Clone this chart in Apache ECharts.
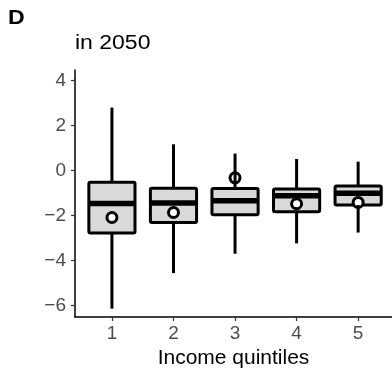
<!DOCTYPE html>
<html>
<head>
<meta charset="utf-8">
<script src="https://cdn.jsdelivr.net/npm/echarts@6/dist/echarts.min.js"></script>
<style>
  html, body { margin: 0; padding: 0; background: #fff; }
  #chart { width: 392px; height: 374px; }
</style>
</head>
<body>
<div id="chart"></div>
<script>
// Income quintile summaries, year 2050
const quintiles = [1, 2, 3, 4, 5];
const whiskerLow = [-6.13, -4.55, -3.69, -3.23, -2.75];
const q1 = [-2.77, -2.30, -1.96, -1.83, -1.53];
const medians = [-1.46, -1.44, -1.34, -1.12, -1.00];
const q3 = [-0.51, -0.78, -0.79, -0.81, -0.68];
const whiskerHigh = [2.80, 1.17, 0.76, 0.52, 0.40];
const means = [-2.08, -1.86, -0.32, -1.47, -1.41];
const yTicks = [-6, -4, -2, 0, 2, 4];

const rows = quintiles.map((q, i) => [q, whiskerLow[i], q1[i], medians[i], q3[i], whiskerHigh[i], means[i]]);

const chart = echarts.init(document.getElementById('chart'), null, { renderer: 'canvas' });

// One box per quintile: box, median bar, mean ring, whiskers
function renderBox(params, api) {
  const x = api.value(0);
  const halfW = api.size([0.75, 0])[0] / 2;
  const pLow = api.coord([x, api.value(1)]);
  const pQ1 = api.coord([x, api.value(2)]);
  const pMed = api.coord([x, api.value(3)]);
  const pQ3 = api.coord([x, api.value(4)]);
  const pHigh = api.coord([x, api.value(5)]);
  const pMean = api.coord([x, api.value(6)]);
  const cx = pQ1[0];
  const stroke = '#000';
  return {
    type: 'group',
    children: [
      {
        type: 'rect',
        shape: { x: cx - halfW, y: pQ3[1], width: halfW * 2, height: pQ1[1] - pQ3[1], r: 1.5 },
        style: { fill: '#D9D9D9', stroke: stroke, lineWidth: 3 }
      },
      {
        type: 'line',
        shape: { x1: cx - halfW, y1: pMed[1], x2: cx + halfW, y2: pMed[1] },
        style: { stroke: stroke, lineWidth: 5.5 }
      },
      {
        type: 'circle',
        shape: { cx: cx, cy: pMean[1], r: 5 },
        style: { fill: '#fff', stroke: stroke, lineWidth: 3 }
      },
      {
        type: 'line',
        shape: { x1: cx, y1: pQ3[1], x2: cx, y2: pHigh[1] },
        style: { stroke: stroke, lineWidth: 3 }
      },
      {
        type: 'line',
        shape: { x1: cx, y1: pQ1[1], x2: cx, y2: pLow[1] },
        style: { stroke: stroke, lineWidth: 3 }
      }
    ]
  };
}

chart.setOption({
  animation: false,
  backgroundColor: '#fff',
  textStyle: { fontFamily: '"Liberation Sans", Arial, sans-serif' },
  graphic: [
    {
      type: 'text', x: 8, y: 8, scaleX: 1.1,
      style: { text: 'D', font: 'bold 21px "Liberation Sans", Arial, sans-serif', fill: '#000' }
    },
    {
      type: 'text', x: 75, y: 33, scaleX: 1.15,
      style: { text: 'in 2050', font: '20px "Liberation Sans", Arial, sans-serif', fill: '#000' }
    }
  ],
  grid: { left: 75, right: 0, top: 70, bottom: 57, containLabel: false },
  xAxis: {
    type: 'value',
    min: 0.4,
    max: 5.55,
    name: 'Income quintiles',
    nameLocation: 'middle',
    nameGap: 31,
    nameTextStyle: { color: '#000', fontSize: 21, verticalAlign: 'top' },
    splitLine: { show: false },
    axisLine: { show: true, onZero: false, lineStyle: { color: '#000', width: 1.5 } },
    axisTick: { show: true, length: 4, customValues: quintiles, lineStyle: { color: '#333', width: 1.2 } },
    axisLabel: { customValues: quintiles, color: '#4D4D4D', fontSize: 19, margin: 7 }
  },
  yAxis: {
    type: 'value',
    min: -6.5,
    max: 4.47,
    splitLine: { show: false },
    axisLine: { show: true, onZero: false, lineStyle: { color: '#000', width: 1.5 } },
    axisTick: { show: true, length: 4, customValues: yTicks, lineStyle: { color: '#333', width: 1.2 } },
    axisLabel: {
      customValues: yTicks, color: '#4D4D4D', fontSize: 19, margin: 9,
      formatter: v => (v < 0 ? '\u2212' + Math.abs(v) : String(v))
    }
  },
  series: [{
    type: 'custom',
    renderItem: renderBox,
    data: rows,
    encode: { x: 0, y: [1, 2, 3, 4, 5, 6] },
    clip: false
  }]
});
</script>
</body>
</html>
